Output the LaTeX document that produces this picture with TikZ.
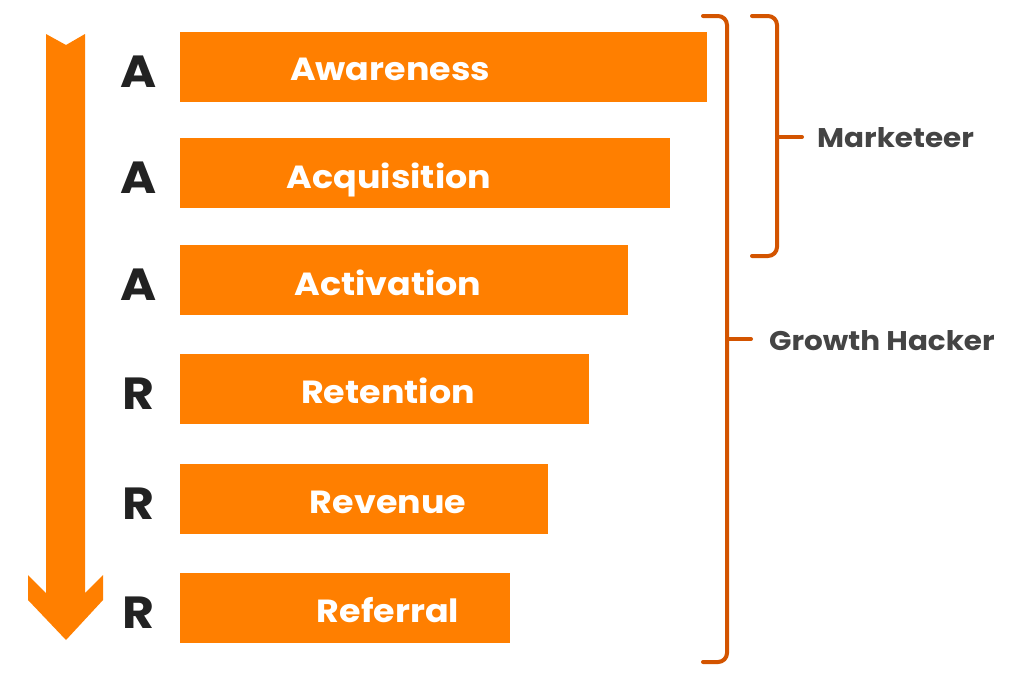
\documentclass[tikz,border=0pt]{standalone}
\usepackage{fontspec}
\setmainfont{Poppins}[BoldFont={* Bold}]
\newfontfamily\widefont{Poppins}[BoldFont={* Bold},FakeStretch=1.09]
\definecolor{barorange}{RGB}{255,127,0}
\definecolor{braceorange}{RGB}{211,84,0}
\definecolor{lettergray}{RGB}{34,34,34}
\definecolor{labelgray}{RGB}{68,68,68}
\begin{document}
\begin{tikzpicture}[x=1pt,y=-1pt,
  bar/.style={fill=barorange,draw=none,anchor=north west,inner sep=0pt,minimum height=70pt},
  bartext/.style={text=white,font=\widefont\bfseries\fontsize{32}{36}\selectfont,inner sep=0pt,anchor=base},
  letter/.style={text=lettergray,font=\widefont\bfseries\fontsize{45}{50}\selectfont,inner sep=0pt,anchor=base},
  bracelabel/.style={text=labelgray,font=\widefont\bfseries\fontsize{27}{30}\selectfont,inner sep=0pt,anchor=west},
  bracepath/.style={draw=braceorange,line width=4pt,rounded corners=9pt,line cap=round}]
\useasboundingbox (0,0) rectangle (1024,675);
% funnel arrow
\fill[barorange] (46,34) -- (66,45) -- (85,34) -- (85,593) -- (103,575) -- (103,600) -- (66,640) -- (28,600) -- (28,575) -- (46,593) -- cycle;
% bars
\node[bar,minimum width=527pt] (b1) at (180,32) {};
\node[bar,minimum width=490pt] (b2) at (180,138) {};
\node[bar,minimum width=448pt] (b3) at (180,245) {};
\node[bar,minimum width=409pt] (b4) at (180,354) {};
\node[bar,minimum width=368pt] (b5) at (180,464) {};
\node[bar,minimum width=330pt] (b6) at (180,573) {};
% bar texts
\node[bartext] (t1) at (390,80) {Awareness};
\node[bartext] (t2) at (389,188) {Acquisition};
\node[bartext] (t3) at (388,295) {Activation};
\node[bartext] (t4) at (388,403) {Retention};
\node[bartext] (t5) at (388,513) {Revenue};
\node[bartext] (t6) at (388,622) {Referral};
% letters
\node[letter] (l1) at (139,87) {A};
\node[letter] (l2) at (139,193) {A};
\node[letter] (l3) at (139,300) {A};
\node[letter] (l4) at (138,409) {R};
\node[letter] (l5) at (138,519) {R};
\node[letter] (l6) at (138,628) {R};
% braces
\coordinate (m1) at (752,16);
\coordinate (m2) at (777,16);
\coordinate (mc) at (777,137);
\coordinate (mt) at (802,137);
\coordinate (m3) at (777,256);
\coordinate (m4) at (752,256);
\draw[bracepath] (m1) -- (m2) -- (mc);
\draw[bracepath] (mc) -- (m3) -- (m4);
\draw[draw=braceorange,line width=4pt,line cap=round] (mc) -- (mt);
\coordinate (g1) at (703,16);
\coordinate (g2) at (727,16);
\coordinate (gc) at (727,339);
\coordinate (gt) at (751,339);
\coordinate (g3) at (727,662);
\coordinate (g4) at (703,662);
\draw[bracepath] (g1) -- (g2) -- (gc);
\draw[bracepath] (gc) -- (g3) -- (g4);
\draw[draw=braceorange,line width=4pt,line cap=round] (gc) -- (gt);
% brace labels
\node[bracelabel] (mk) at (817,138) {Marketeer};
\node[bracelabel] (gh) at (769,341) {Growth Hacker};
\end{tikzpicture}
\end{document}
